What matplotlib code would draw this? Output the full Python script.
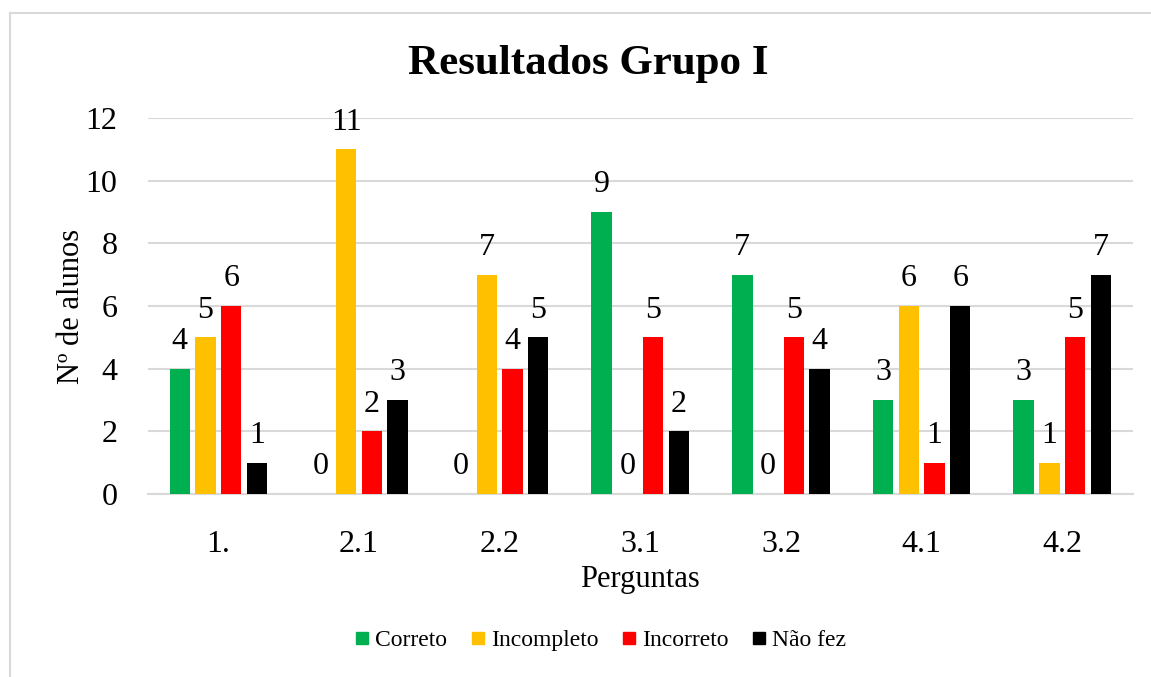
import numpy as np
import matplotlib.pyplot as plt
from matplotlib.lines import Line2D

plt.rcParams['font.family'] = ['Liberation Serif', 'DejaVu Serif']

# Data
perguntas = ['1.', '2.1', '2.2', '3.1', '3.2', '4.1', '4.2']
correto = [4, 0, 0, 9, 7, 3, 3]
incompleto = [5, 11, 7, 0, 0, 6, 1]
incorreto = [6, 2, 4, 5, 5, 1, 5]
nao_fez = [1, 3, 5, 2, 4, 6, 7]

series = [('Correto', correto, '#00B050'),
          ('Incompleto', incompleto, '#FFC000'),
          ('Incorreto', incorreto, '#FF0000'),
          ('Não fez', nao_fez, '#000000')]

fig = plt.figure(figsize=(11.51, 6.77), dpi=100)
ax = fig.add_axes([0.1286, 0.2703, 0.984 - 0.1286, 0.8257 - 0.2703])

x = np.arange(len(perguntas))
width = 0.145
pitch = 0.183
for i, (name, vals, col) in enumerate(series):
    pos = x + (i - 1.5) * pitch
    bars = ax.bar(pos, vals, width, color=col, label=name, zorder=3)
    for p, v in zip(pos, vals):
        ax.text(p, v + 0.4, str(v), ha='center', va='bottom', fontsize=23)

ax.set_xlim(-0.5, len(perguntas) - 0.5)
ax.set_ylim(0, 12)
ax.set_yticks(range(0, 13, 2))
ax.set_xticks(x)
ax.set_xticklabels(perguntas)
ax.yaxis.grid(True, color='#D9D9D9', linewidth=1.5, zorder=0)
for s in ['top', 'right', 'left']:
    ax.spines[s].set_visible(False)
ax.spines['bottom'].set_color('#D9D9D9')
ax.spines['bottom'].set_linewidth(1.5)
ax.tick_params(length=0, labelsize=23)
ax.tick_params(axis='y', pad=22)
ax.tick_params(axis='x', pad=26)

ax.set_xlabel('Perguntas', fontsize=22, labelpad=4)
ax.set_ylabel('Nº de alunos', fontsize=22, labelpad=0)
fig.text(0.511, 0.905, 'Resultados Grupo I', ha='center', va='center',
         fontsize=31, fontweight='bold')

handles = [Line2D([], [], marker='s', linestyle='', markersize=9,
                  color=col) for _, _, col in series]
fig.legend(handles, [s[0] for s in series], loc='center',
           bbox_to_anchor=(0.522, 0.054), ncol=4, frameon=False,
           fontsize=17, handlelength=0.6, handletextpad=0.25,
           columnspacing=1.0)

# chart border
fig.add_artist(Line2D([10 / 1151, 10 / 1151], [0, 1 - 13 / 677],
                      color='#D9D9D9', linewidth=1.5,
                      transform=fig.transFigure))
fig.add_artist(Line2D([10 / 1151, 1], [1 - 13 / 677, 1 - 13 / 677],
                      color='#D9D9D9', linewidth=1.5,
                      transform=fig.transFigure))

fig.patch.set_facecolor('white')
fig.savefig('out.png', dpi=100)
